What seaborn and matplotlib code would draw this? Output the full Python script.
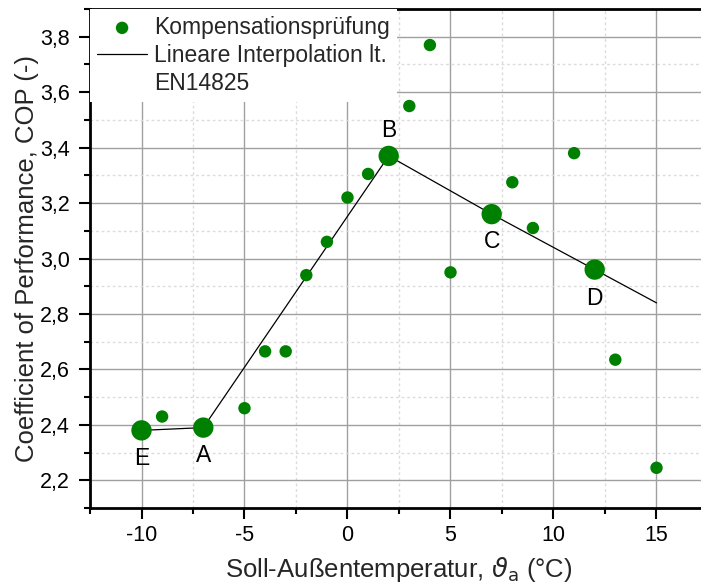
import matplotlib
matplotlib.use("Agg")
import matplotlib.pyplot as plt
from matplotlib.lines import Line2D
from matplotlib.ticker import FixedLocator, FixedFormatter, MultipleLocator
import pandas as pd
import seaborn as sns

# Kompensationsprüfung: measured COP per target outdoor temperature
mess_temp = [-9, -5, -4, -3, -2, -1, 0, 1, 3, 4, 5, 8, 9, 11, 13, 15]
mess_cop = [2.43, 2.46, 2.665, 2.665, 2.94, 3.06, 3.22, 3.305, 3.55, 3.77,
            2.95, 3.275, 3.11, 3.38, 2.635, 2.245]

# EN14825 rating points
pkt_namen = ["E", "A", "B", "C", "D"]
pkt_temp = [-10, -7, 2, 7, 12]
pkt_cop = [2.38, 2.39, 3.37, 3.16, 2.96]

# Linear interpolation according to EN14825 (continued up to 15 °C)
interp_temp = [-10, -7, 2, 7, 12, 15]
interp_cop = [2.38, 2.39, 3.37, 3.16, 2.96, 2.84]

# Axis ticks
x_ticks = [-10, -5, 0, 5, 10, 15]
y_ticks = [2.2, 2.4, 2.6, 2.8, 3.0, 3.2, 3.4, 3.6, 3.8]
y_tick_labels = ["2,2", "2,4", "2,6", "2,8", "3,0", "3,2", "3,4", "3,6", "3,8"]

df_mess = pd.DataFrame({"temp": mess_temp, "cop": mess_cop})
df_pkt = pd.DataFrame({"temp": pkt_temp, "cop": pkt_cop, "name": pkt_namen})
df_interp = pd.DataFrame({"temp": interp_temp, "cop": interp_cop})

sns.set_theme(style="white")
plt.rcParams["font.family"] = ["Liberation Sans", "DejaVu Sans"]
plt.rcParams["mathtext.fontset"] = "dejavusans"
plt.rcParams["axes.unicode_minus"] = False

GREEN = "#008000"

fig = plt.figure(figsize=(7.01, 5.85), dpi=100)
ax = fig.add_axes([90 / 701, 77 / 585, 618 / 701, 499 / 585])

sns.lineplot(data=df_interp, x="temp", y="cop", ax=ax, color="black",
             linewidth=0.9, zorder=3, label="Lineare Interpolation lt.")
sns.scatterplot(data=df_mess, x="temp", y="cop", ax=ax, color=GREEN,
                s=80, edgecolor="none", zorder=4, label="Kompensationsprüfung")
sns.scatterplot(data=df_pkt, x="temp", y="cop", ax=ax, color=GREEN,
                s=215, edgecolor="none", zorder=4, legend=False)

# Point names: B above its marker, all others below
label_offsets = {"E": -20, "A": -20, "B": 18, "C": -20, "D": -21}
for name, t, c in zip(pkt_namen, pkt_temp, pkt_cop):
    ax.annotate(name, (t, c), xytext=(0, label_offsets[name]),
                textcoords="offset points", ha="center", va="center",
                fontsize=16.5, color="black", zorder=5)

ax.set_xlim(-12.5, 17.5)
ax.set_ylim(2.1, 3.9)

ax.xaxis.set_major_locator(FixedLocator(x_ticks))
ax.xaxis.set_minor_locator(MultipleLocator(2.5))
ax.yaxis.set_major_locator(FixedLocator(y_ticks))
ax.yaxis.set_major_formatter(FixedFormatter(y_tick_labels))
ax.yaxis.set_minor_locator(MultipleLocator(0.1))

ax.grid(True, which="major", color="#a0a0a0", linewidth=1.0, linestyle="-")
ax.grid(True, which="minor", color="#dcdcdc", linewidth=1.0,
        linestyle=(0, (2, 2)))
ax.set_axisbelow(True)

for side in ["left", "bottom", "top"]:
    ax.spines[side].set_visible(True)
    ax.spines[side].set_color("black")
    ax.spines[side].set_linewidth(2.0)
ax.spines["right"].set_visible(False)

ax.tick_params(which="major", direction="out", length=8, width=1.5,
               labelsize=15.5, colors="black",
               bottom=True, left=True, top=False, right=False)
ax.tick_params(axis="x", which="major", pad=4)
ax.tick_params(axis="y", which="major", pad=6.5)
ax.tick_params(which="minor", direction="out", length=4.5, width=1.5,
               colors="black", bottom=True, left=True, top=False, right=False)

ax.set_xlabel(r"Soll-Außentemperatur, $\vartheta_\mathrm{a}$ (°C)",
              fontsize=18.5, labelpad=7)
ax.set_ylabel("Coefficient of Performance, COP (-)", fontsize=18.5,
              labelpad=1)

handles, labels = ax.get_legend_handles_labels()
hmap = dict(zip(labels, handles))
leg_handles = [hmap["Kompensationsprüfung"], hmap["Lineare Interpolation lt."],
               Line2D([], [], linestyle="none")]
leg_labels = ["Kompensationsprüfung", "Lineare Interpolation lt.", "EN14825"]
leg = ax.legend(leg_handles, leg_labels, loc="upper left", fontsize=16.5,
                frameon=True, fancybox=False, framealpha=1.0,
                facecolor="white", edgecolor="none", borderaxespad=0.0,
                borderpad=0.3, labelspacing=0.22, handlelength=2.2,
                handletextpad=0.3, markerscale=1.0)
leg.set_zorder(6)

fig.savefig("out.png", dpi=100)
